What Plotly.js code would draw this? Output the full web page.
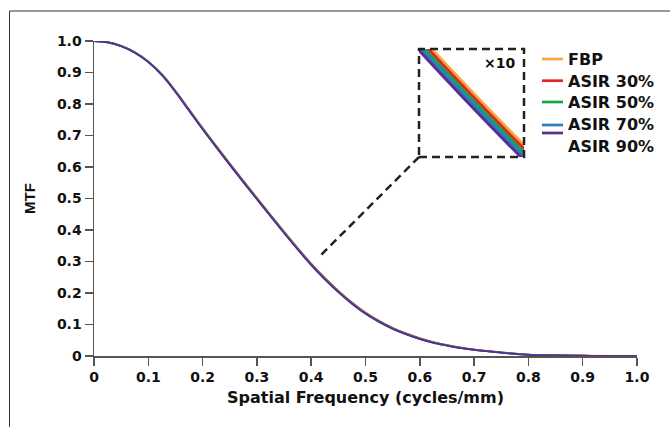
<!DOCTYPE html>
<html>
<head>
<meta charset="utf-8">
<script src="https://cdn.plot.ly/plotly-3.0.1.min.js"></script>
<style>html,body{margin:0;padding:0;background:#fff;}#chart{width:670px;height:427px;}</style>
</head>
<body>
<div id="chart"></div>
<script>
// ---- data ----
var freq = [0,0.025,0.05,0.075,0.1,0.125,0.15,0.175,0.2,0.225,0.25,0.275,0.3,0.325,0.35,0.375,0.4,0.425,0.45,0.475,0.5,0.525,0.55,0.575,0.6,0.625,0.65,0.675,0.7,0.75,0.8,0.85,0.9,0.95,1.0];
var mtfFBP = [1.0000,0.9962,0.9846,0.9650,0.9352,0.8946,0.8418,0.7832,0.7244,0.6674,0.6114,0.5564,0.5024,0.4484,0.3954,0.3434,0.2934,0.2484,0.2074,0.1704,0.1382,0.1120,0.0898,0.0716,0.0564,0.0442,0.0350,0.0270,0.0208,0.0116,0.0044,0.0022,0.0012,0,0];
var mtfASIR30 = [1.0000,0.9961,0.9843,0.9645,0.9346,0.8938,0.8409,0.7821,0.7232,0.6662,0.6102,0.5552,0.5012,0.4472,0.3942,0.3422,0.2922,0.2472,0.2062,0.1692,0.1371,0.1110,0.0889,0.0708,0.0557,0.0436,0.0345,0.0265,0.0204,0.0113,0.0042,0.0021,0.0011,0,0];
var mtfASIR50 = [1.000,0.996,0.984,0.964,0.934,0.893,0.840,0.781,0.722,0.665,0.609,0.554,0.500,0.446,0.393,0.341,0.291,0.246,0.205,0.168,0.136,0.110,0.088,0.070,0.055,0.043,0.034,0.026,0.020,0.011,0.004,0.002,0.001,0,0];
var mtfASIR70 = [1.0000,0.9959,0.9837,0.9635,0.9334,0.8922,0.8391,0.7799,0.7208,0.6638,0.6078,0.5528,0.4988,0.4448,0.3918,0.3398,0.2898,0.2448,0.2038,0.1668,0.1349,0.1090,0.0871,0.0692,0.0543,0.0424,0.0335,0.0255,0.0196,0.0107,0.0038,0.0019,0.0009,0,0];
var mtfASIR90 = [1.0000,0.9958,0.9834,0.9630,0.9328,0.8914,0.8382,0.7788,0.7196,0.6626,0.6066,0.5516,0.4976,0.4436,0.3906,0.3386,0.2886,0.2436,0.2026,0.1656,0.1338,0.1080,0.0862,0.0684,0.0536,0.0418,0.0330,0.0250,0.0192,0.0104,0.0036,0.0018,0.0008,0,0];

var seriesNames = ["FBP","ASIR 30%","ASIR 50%","ASIR 70%","ASIR 90%"];
var seriesData = [mtfFBP, mtfASIR30, mtfASIR50, mtfASIR70, mtfASIR90];
var seriesColors = ["#FBA93B","#E42228","#12A54E","#2B7CC0","#5A2D91"];

var tickVals = [0,0.1,0.2,0.3,0.4,0.5,0.6,0.7,0.8,0.9,1.0];
var xTickText = ["0","0.1","0.2","0.3","0.4","0.5","0.6","0.7","0.8","0.9","1.0"];
var yTickText = ["0","0.1","0.2","0.3","0.4","0.5","0.6","0.7","0.8","0.9","1.0"];

// ---- layout helpers (pixel -> paper) ----
var L = 94, T = 41, W = 543, H = 315;
function px(x){ return (x - L) / W; }
function py(y){ return (T + H - y) / H; }

var boldFont = {family: "DejaVu Sans, Arial, sans-serif", size: 14, color: "#111", weight: "bold"};

var traces = [];
for (var i = 0; i < seriesNames.length; i++) {
  traces.push({x: freq, y: seriesData[i], type: "scatter", mode: "lines", name: seriesNames[i],
    line: {color: seriesColors[i], width: 1.8, shape: "spline"}, showlegend: false,
    xaxis: "x", yaxis: "y", hoverinfo: "skip"});
}
for (var j = 0; j < seriesNames.length; j++) {
  traces.push({x: freq, y: seriesData[j], type: "scatter", mode: "lines", name: seriesNames[j] + " (×10)",
    line: {color: seriesColors[j], width: 3, shape: "spline"}, showlegend: false,
    xaxis: "x2", yaxis: "y2", hoverinfo: "skip"});
}

var shapes = [];
var annotations = [];
// figure frame (top and left edges)
shapes.push({type: "line", xref: "paper", yref: "paper", x0: px(9.5), x1: px(672), y0: py(11), y1: py(11), line: {color: "#333", width: 1}});
shapes.push({type: "line", xref: "paper", yref: "paper", x0: px(9.5), x1: px(9.5), y0: py(11), y1: py(430), line: {color: "#333", width: 1}});
// inset box
shapes.push({type: "rect", xref: "paper", yref: "paper", x0: px(419), x1: px(524), y0: py(157), y1: py(49), line: {color: "#222", width: 2.5, dash: "8px,5px"}});
// connector
shapes.push({type: "line", xref: "paper", yref: "paper", x0: px(419), y0: py(157), x1: px(319), y1: py(257), line: {color: "#222", width: 2.5, dash: "8px,5px"}});
annotations.push({xref: "paper", yref: "paper", x: px(517), y: py(63), xanchor: "right", yanchor: "middle", text: "×10", showarrow: false, font: boldFont});

// custom legend
var legLineY = [59, 80.7, 102, 125, 133];
var legTextY = [59, 81.7, 102.7, 124.3, 146.7];
for (var k = 0; k < seriesNames.length; k++) {
  shapes.push({type: "line", xref: "paper", yref: "paper", x0: px(542), x1: px(563), y0: py(legLineY[k]), y1: py(legLineY[k]), line: {color: seriesColors[k], width: 2.7}});
  annotations.push({xref: "paper", yref: "paper", x: px(566), y: py(legTextY[k]), xanchor: "left", yanchor: "middle", text: seriesNames[k], showarrow: false,
    font: {family: "DejaVu Sans, Arial, sans-serif", size: 16, color: "#111", weight: "bold"}});
}

var layout = {
  width: 670, height: 427,
  margin: {l: L, r: 670 - L - W, t: T, b: 427 - T - H, pad: 0},
  paper_bgcolor: "#fff", plot_bgcolor: "#fff",
  showlegend: false,
  xaxis: {range: [0, 1], tickvals: tickVals, ticktext: xTickText, ticks: "outside", ticklen: 8, tickwidth: 1.5, tickcolor: "#555",
    showline: true, linecolor: "#555", linewidth: 1.5, showgrid: false, zeroline: false, tickfont: boldFont,
    title: {text: "Spatial Frequency (cycles/mm)", font: {family: "DejaVu Sans, Arial, sans-serif", size: 16, color: "#111", weight: "bold"}, standoff: 7}, automargin: false, fixedrange: true},
  yaxis: {range: [0, 1], tickvals: tickVals, ticktext: yTickText, ticks: "outside", ticklen: 8, tickwidth: 1.5, tickcolor: "#555",
    showline: true, linecolor: "#555", linewidth: 1.5, showgrid: false, zeroline: false, tickfont: boldFont,
    title: {text: "MTF", font: {family: "Liberation Sans, Arial, sans-serif", size: 15, color: "#111", weight: "bold"}, standoff: 17}, automargin: false, fixedrange: true},
  xaxis2: {domain: [px(419), px(524)], anchor: "y2", range: [0.400, 0.4193], showline: false, showgrid: false, zeroline: false, showticklabels: false, ticks: ""},
  yaxis2: {domain: [py(157), py(49)], anchor: "x2", range: [0.2545, 0.2890], showline: false, showgrid: false, zeroline: false, showticklabels: false, ticks: ""},
  shapes: shapes,
  annotations: annotations
};

Plotly.newPlot("chart", traces, layout, {displayModeBar: false, staticPlot: true});
</script>
</body>
</html>
